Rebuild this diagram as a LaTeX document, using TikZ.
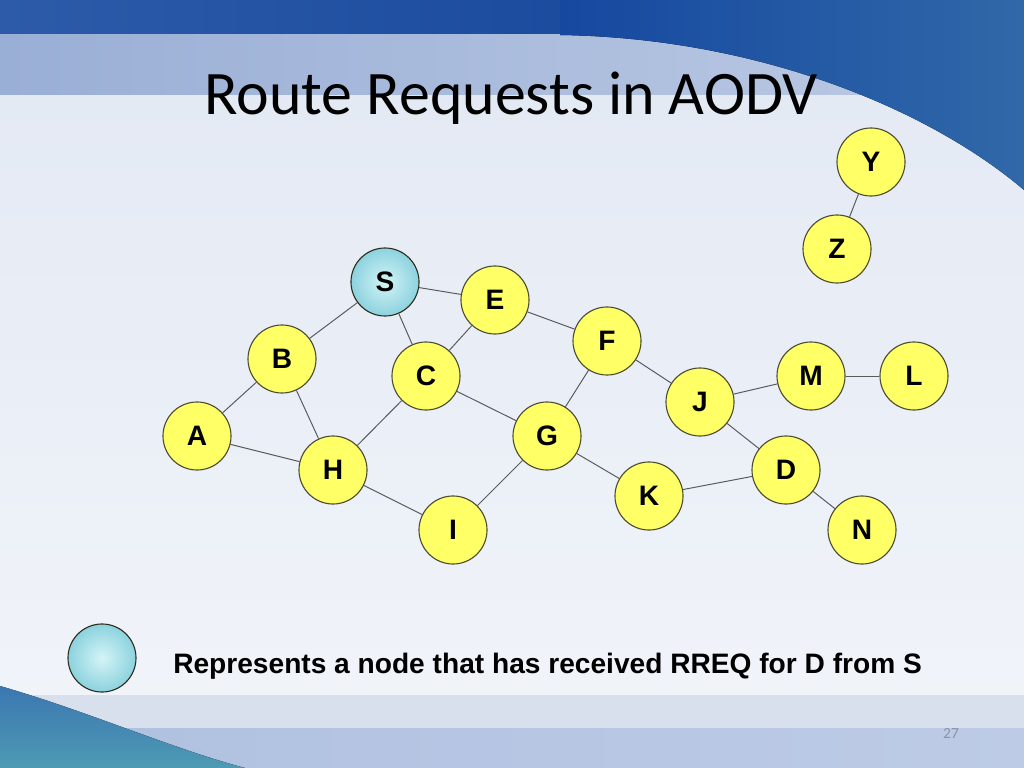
\documentclass[tikz,border=0pt]{standalone}
\usepackage{fontspec}
\setmainfont{Liberation Sans}
\newfontfamily\titlefont{Carlito}
\usetikzlibrary{positioning}
\definecolor{clrnode}{HTML}{FFFF66}
\definecolor{clrborder}{HTML}{4D4D33}
\definecolor{clrlink}{HTML}{5A5A5A}
\definecolor{clrrreqin}{HTML}{D4F4F7}
\definecolor{clrrreqout}{HTML}{8CD2DE}
\definecolor{clrpagetop}{HTML}{E2E8F3}
\definecolor{clrpagebottom}{HTML}{F2F5FA}
\definecolor{clrtopleft}{HTML}{2D5BAA}
\definecolor{clrtopright}{HTML}{0D3F94}
\definecolor{clrbandleft}{HTML}{9AAFD6}
\definecolor{clrbandright}{HTML}{BCCAE4}
\definecolor{clrswooshleft}{HTML}{1648A0}
\definecolor{clrswooshright}{HTML}{3068A8}
\definecolor{clrfootlight}{HTML}{D8E0EE}
\definecolor{clrfootleft}{HTML}{AFC0E0}
\definecolor{clrfootright}{HTML}{BDCBE6}
\definecolor{clrwavetop}{HTML}{3B77B2}
\definecolor{clrwavebottom}{HTML}{4E9AB3}
\definecolor{clrpageno}{HTML}{8A94A8}

\begin{document}
\begin{tikzpicture}[
    x=0.025cm, y=-0.025cm,
    station/.style={circle, draw=clrborder, fill=clrnode, line width=0.8pt,
                    minimum size=1.7cm, inner sep=0pt,
                    font=\fontsize{20}{20}\selectfont\bfseries},
    reached/.style={station, inner color=clrrreqin, outer color=clrrreqout,
                    draw=clrborder!60!black},
    link/.style={draw=clrlink, line width=0.7pt},
    caption/.style={font=\fontsize{20}{20}\selectfont\bfseries, anchor=base west, inner sep=0pt},
    pagetitle/.style={font=\titlefont\fontsize{44}{44}\selectfont, anchor=base},
]
\useasboundingbox (0,0) rectangle (1024,768);
\fill[top color=clrpagetop, bottom color=clrpagebottom] (0,0) rectangle (1024,768);
\fill[left color=clrtopleft, right color=clrtopright] (0,0) rectangle (1024,35);
\fill[left color=clrbandleft, right color=clrbandright] (0,35) rectangle (1024,95);
\fill[left color=clrswooshleft, right color=clrswooshright] (560,35) .. controls (760,38) and (930,110) .. (1024,190) -- (1024,0) -- (560,0) -- cycle;
\fill[clrfootlight] (0,695) rectangle (1024,728);
\fill[left color=clrfootleft, right color=clrfootright] (0,728) rectangle (1024,768);
\fill[top color=clrwavetop, bottom color=clrwavebottom] (0,686) .. controls (90,712) and (170,748) .. (245,768) -- (0,768) -- cycle;
\node[pagetitle] (title) at (511,115) {Route Requests in AODV};
\node[reached] (S) at (385,282) {S};
\node[station] (E) at (495,300) {E};
\node[station] (B) at (282,359) {B};
\node[station] (C) at (426,376) {C};
\node[station] (A) at (197,436) {A};
\node[station] (H) at (333,470) {H};
\node[station] (I) at (453,530) {I};
\node[station] (F) at (607,341) {F};
\node[station] (G) at (547,436) {G};
\node[station] (J) at (700,402) {J};
\node[station] (K) at (649,496) {K};
\node[station] (M) at (811,376) {M};
\node[station] (L) at (914,376) {L};
\node[station] (D) at (786,470) {D};
\node[station] (N) at (862,530) {N};
\node[station] (Y) at (871,162) {Y};
\node[station] (Z) at (837,249) {Z};
\draw[link] (Y) -- (Z);
\draw[link] (S) -- (B);
\draw[link] (S) -- (E);
\draw[link] (S) -- (C);
\draw[link] (E) -- (C);
\draw[link] (E) -- (F);
\draw[link] (B) -- (A);
\draw[link] (B) -- (H);
\draw[link] (A) -- (H);
\draw[link] (C) -- (H);
\draw[link] (C) -- (G);
\draw[link] (F) -- (G);
\draw[link] (F) -- (J);
\draw[link] (J) -- (M);
\draw[link] (M) -- (L);
\draw[link] (J) -- (D);
\draw[link] (G) -- (K);
\draw[link] (G) -- (I);
\draw[link] (H) -- (I);
\draw[link] (K) -- (D);
\draw[link] (D) -- (N);
\node[reached] (key) at (102,658) {};
\node[caption] (keytext) at (173,673) {Represents a node that has received RREQ for D from S};
\node[font=\titlefont\fontsize{11}{11}\selectfont, text=clrpageno] (pageno) at (951,733) {27};
\end{tikzpicture}
\end{document}
